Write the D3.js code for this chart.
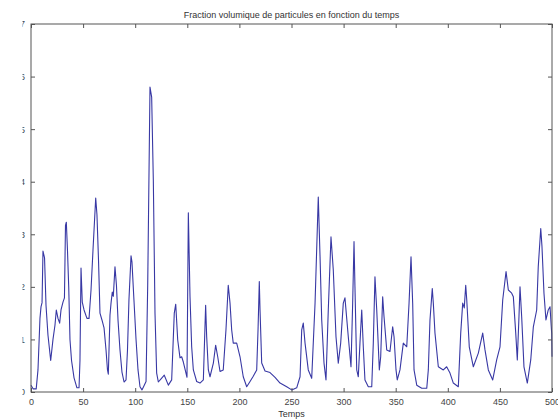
<!DOCTYPE html>
<html>
<head>
<meta charset="utf-8">
<script src="https://cdn.jsdelivr.net/npm/d3@7"></script>
<style>
  html, body { margin: 0; padding: 0; background: #fff; }
  svg { display: block; font-family: "Liberation Sans", Arial, sans-serif; }
</style>
</head>
<body>
<svg id="chart" width="558" height="420"></svg>
<script>
// Time samples (Temps) and particle volume fraction at each sample
const temps = [
  0, 2, 5, 6.7, 8.6, 9.6, 10.6, 11.5, 13, 14.4, 16.3, 18.9, 21.1, 23, 24.3, 25.9, 27.5, 28.8, 30.7, 32.1,
  33.1, 33.9, 35, 36.2, 37.4, 38.9, 41.3, 44.1, 46.1, 47, 48, 49.2, 50.9, 53.7, 55.7, 57.6, 59.5, 62.1, 63.3, 64.8,
  66.2, 68.1, 70.1, 72, 73.4, 74.2, 75.8, 76.8, 78, 79, 80.6, 82, 83.5, 85.4, 87.3, 89.3, 91.2, 92.6, 94, 96,
  96.9, 98.8, 100.8, 102.7, 104.6, 106.5, 108.7, 110.4, 112, 114.2, 115.8, 117.4, 119, 120.6, 122.2, 124.8, 127.9, 131.8, 135, 137.5,
  138.9, 140.8, 143, 144.6, 146.2, 148.5, 149.7, 151, 152.6, 154.2, 155.8, 159, 162.2, 165.4, 167.6, 168.6, 170.2, 171.8, 175, 177.2,
  179.2, 181.4, 184.5, 187.1, 189.3, 191, 192.6, 194.1, 197.4, 200.6, 203.7, 207, 210.2, 213.3, 216.6, 217.9, 219.1, 219.8, 221.4, 224.6,
  229.4, 234.2, 239, 245.4, 250.2, 255, 258.2, 259.8, 261.3, 263, 266.1, 269.4, 272.6, 275.7, 277.4, 279, 281.2, 283.1, 285.3, 287.9,
  290.1, 292.7, 294.9, 297.2, 299.7, 301.3, 304.5, 307.1, 308.7, 310, 310.9, 312.6, 314.1, 315.7, 317.4, 318.9, 320.5, 323.7, 327, 328.5,
  330.1, 331.8, 334.3, 335.6, 337.5, 338.8, 341.4, 344.5, 347.1, 348.4, 350.3, 351.5, 354.1, 357.3, 360.6, 362.8, 364.7, 366.3, 367.6, 370.2,
  375, 379.8, 381.3, 382.9, 385.1, 386.1, 387.7, 390.9, 395.7, 398.9, 402.1, 405.3, 410.1, 412.4, 414.3, 415.8, 417.2, 418.2, 420.6, 424.5,
  429.3, 433.5, 435.7, 438.9, 443.1, 446.9, 450.1, 452.7, 455.9, 458.1, 461.3, 462.9, 465.2, 466.7, 468.3, 469.3, 470.9, 473.1, 476.3, 479.6,
  482.1, 485.3, 486.8, 489.2, 490.4, 492.3, 494.2, 496.4, 498.1, 499.7, 500
];
const fraction = [
  0.13, 0.06, 0.06, 0.42, 1.4, 1.62, 1.7, 2.68, 2.55, 1.65, 1.08, 0.6, 1.0, 1.27, 1.56, 1.4, 1.31, 1.56, 1.71, 1.79,
  3.17, 3.23, 2.7, 2.0, 1.0, 0.6, 0.27, 0.08, 0.08, 0.6, 2.36, 1.71, 1.56, 1.4, 1.4, 1.94, 2.7, 3.69, 3.37, 2.5,
  1.5, 1.37, 1.22, 0.8, 0.42, 0.34, 1.46, 1.69, 1.9, 1.82, 2.38, 2.03, 1.37, 0.8, 0.38, 0.19, 0.23, 0.8, 1.75, 2.59,
  2.47, 1.75, 1.0, 0.42, 0.1, 0.04, 0.13, 0.2, 2.03, 5.8, 5.61, 4.03, 1.5, 0.36, 0.19, 0.25, 0.32, 0.13, 0.23, 1.5,
  1.67, 0.99, 0.65, 0.67, 0.57, 0.38, 0.28, 3.41, 1.81, 0.86, 0.42, 0.2, 0.17, 0.23, 1.65, 1.05, 0.42, 0.29, 0.55, 0.89,
  0.67, 0.39, 0.42, 1.18, 2.03, 1.69, 1.18, 0.93, 0.93, 0.67, 0.29, 0.1, 0.2, 0.3, 0.42, 1.2, 2.1, 1.56, 0.55, 0.4,
  0.37, 0.28, 0.17, 0.1, 0.04, 0.08, 0.29, 1.18, 1.31, 0.93, 0.42, 0.26, 1.69, 3.71, 2.57, 1.37, 0.55, 0.23, 1.56, 2.95,
  2.32, 1.05, 0.55, 0.93, 1.69, 1.79, 1.05, 0.48, 1.69, 2.86, 2.0, 0.42, 0.29, 0.93, 1.56, 0.86, 0.23, 0.1, 0.1, 0.93,
  2.19, 1.56, 0.42, 0.67, 1.81, 1.43, 0.8, 0.77, 1.24, 1.05, 0.42, 0.23, 0.42, 0.93, 0.86, 1.69, 2.57, 1.69, 0.42, 0.13,
  0.07, 0.07, 0.42, 1.37, 1.97, 1.69, 1.12, 0.48, 0.42, 0.48, 0.36, 0.17, 0.1, 1.12, 1.69, 1.6, 2.03, 1.75, 0.86, 0.48,
  0.74, 1.12, 0.8, 0.42, 0.23, 0.61, 0.86, 1.75, 2.29, 1.94, 1.88, 1.81, 1.12, 0.61, 1.43, 2.0, 1.43, 0.48, 0.17, 0.61,
  1.24, 1.56, 2.38, 3.11, 2.76, 1.88, 1.37, 1.56, 1.62, 1.12, 0.67
];
const xTicks = [0, 50, 100, 150, 200, 250, 300, 350, 400, 450, 500];
const yTicks = [0, 1, 2, 3, 4, 5, 6, 7];
const titleText = "Fraction volumique de particules en fonction du temps";
const xLabelText = "Temps";

const svg = d3.select("#chart");
const plotLeft = 31, plotRight = 552, plotTop = 24, plotBottom = 392;

const x = d3.scaleLinear().domain([0, 500]).range([plotLeft, plotRight]);
const y = d3.scaleLinear().domain([0, 7]).range([plotBottom, plotTop]);

const axisColor = "#555";
const labelColor = "#444";

// the series
const points = temps.map((t, i) => [t, fraction[i]]);
svg.append("path")
  .datum(points)
  .attr("fill", "none")
  .attr("stroke", "#3838a4")
  .attr("stroke-width", 1.1)
  .attr("stroke-linejoin", "round")
  .attr("d", d3.line().x(d => x(d[0])).y(d => y(d[1])));

function styleAxis(g) {
  g.select(".domain").remove();
  g.selectAll(".tick line").attr("stroke", axisColor);
  g.selectAll(".tick text").attr("fill", labelColor).attr("font-size", 9)
    .attr("font-family", "'Liberation Sans', Arial, sans-serif");
}

// bottom axis, inward ticks
svg.append("g")
  .attr("transform", `translate(0,${plotBottom})`)
  .call(d3.axisBottom(x).tickValues(xTicks).tickFormat(d3.format("d"))
    .tickSizeInner(-4).tickSizeOuter(0).tickPadding(7))
  .call(styleAxis);

// top axis ticks only
svg.append("g")
  .attr("transform", `translate(0,${plotTop})`)
  .call(d3.axisTop(x).tickValues(xTicks).tickSizeInner(-4).tickSizeOuter(0).tickFormat(""))
  .call(styleAxis);

// left axis; the labels sit in a narrow strip at the window edge
svg.append("clipPath").attr("id", "yclip")
  .append("rect").attr("x", -8.5).attr("y", -20).attr("width", 40).attr("height", 460);
svg.append("g")
  .attr("transform", `translate(${plotLeft},0)`)
  .attr("clip-path", "url(#yclip)")
  .call(d3.axisLeft(y).tickValues(yTicks).tickFormat(d3.format("d"))
    .tickSizeInner(-4).tickSizeOuter(0).tickPadding(6))
  .call(styleAxis);

// right axis ticks only
svg.append("g")
  .attr("transform", `translate(${plotRight},0)`)
  .call(d3.axisRight(y).tickValues(yTicks).tickSizeInner(-4).tickSizeOuter(0).tickFormat(""))
  .call(styleAxis);

// box around the plot area
svg.append("rect")
  .attr("x", plotLeft).attr("y", plotTop)
  .attr("width", plotRight - plotLeft).attr("height", plotBottom - plotTop)
  .attr("fill", "none")
  .attr("stroke", axisColor)
  .attr("stroke-width", 1);

// title and axis label
svg.append("text")
  .attr("x", (plotLeft + plotRight) / 2).attr("y", 18)
  .attr("text-anchor", "middle")
  .attr("font-size", 9)
  .attr("fill", "#333")
  .text(titleText);

svg.append("text")
  .attr("x", (plotLeft + plotRight) / 2).attr("y", 417)
  .attr("text-anchor", "middle")
  .attr("font-size", 9)
  .attr("fill", "#333")
  .text(xLabelText);
</script>
</body>
</html>
